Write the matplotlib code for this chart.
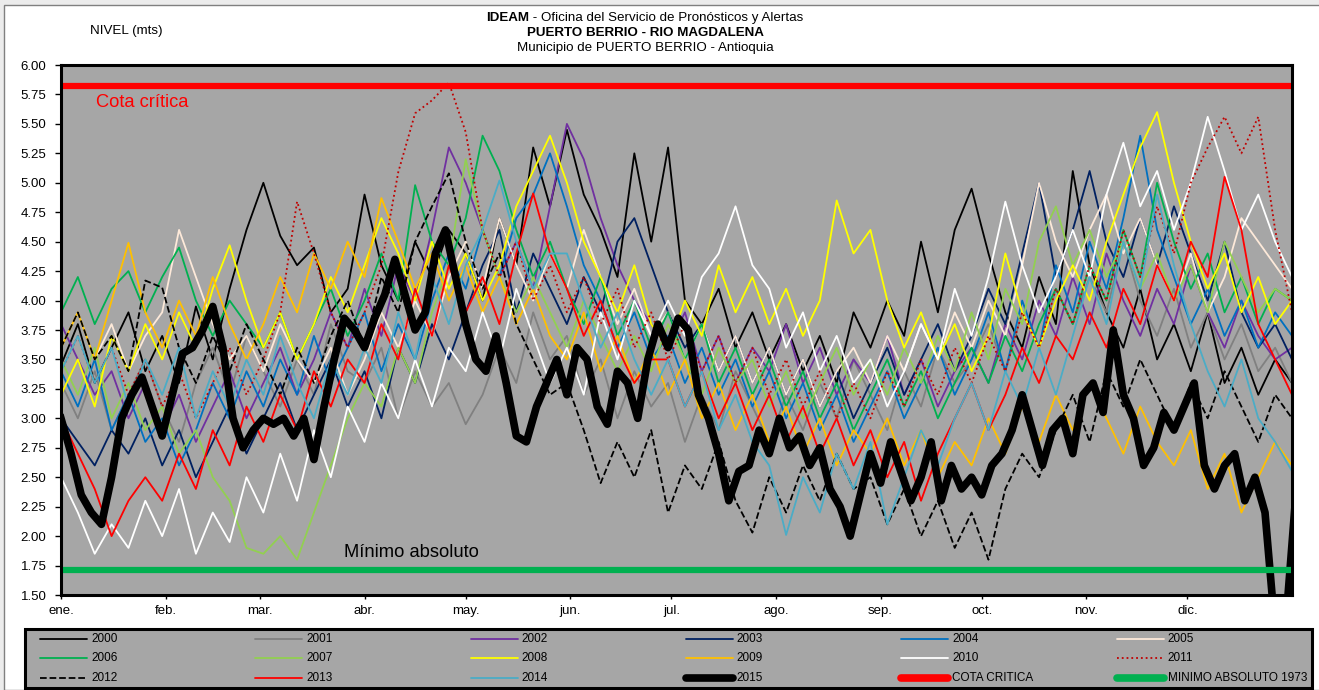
import numpy as np
import matplotlib.pyplot as plt
from matplotlib import font_manager
from matplotlib.lines import Line2D
from matplotlib.patches import Rectangle
from matplotlib.ticker import FormatStrFormatter

plt.rcParams['font.family'] = ['Liberation Sans', 'DejaVu Sans']

W, H = 1319, 690

# dias del año (muestreo cada 5 dias; 2015 cada 3 dias)
dias = np.arange(0, 366, 5)
dias_2015 = np.arange(0, 367, 3)

meses = ['ene.', 'feb.', 'mar.', 'abr.', 'may.', 'jun.', 'jul.', 'ago.',
         'sep.', 'oct.', 'nov.', 'dic.']
inicio_mes = [0, 31, 59, 90, 120, 151, 181, 212, 243, 273, 304, 334]

cota_critica = 5.82
minimo_absoluto = 1.71

# niveles (m)
nivel_2000 = [3.45, 3.8, 3.3, 3.6, 3.9, 3.4, 3.7, 3.3, 3.95, 3.5, 4.1, 4.6,
              5.0, 4.55, 4.3, 4.45, 3.9, 4.1, 4.9, 4.3, 4.0, 4.5, 4.2, 4.6,
              4.4, 4.0, 4.7, 4.3, 5.3, 4.8, 5.45, 4.9, 4.6, 4.2, 5.25, 4.5,
              5.3, 4.0, 3.8, 4.1, 3.6, 3.9, 3.5, 3.8, 3.4, 3.7, 3.3, 3.9,
              3.6, 4.0, 3.7, 4.5, 3.9, 4.6, 4.95, 4.4, 3.9, 3.6, 4.2, 3.8,
              5.1, 4.3, 3.9, 3.6, 4.1, 3.5, 3.8, 3.4, 3.9, 3.3, 3.6, 3.2,
              3.5, 3.3]
nivel_2001 = [3.3, 3.0, 3.4, 2.9, 3.2, 3.5, 3.1, 2.8, 3.3, 3.6, 3.2, 3.7,
              3.4, 3.1, 3.5, 3.2, 3.8, 3.4, 3.3, 3.6, 3.0, 3.4, 3.1, 3.3,
              2.95, 3.2, 3.6, 3.3, 3.9, 3.5, 3.7, 3.2, 3.5, 3.0, 3.4, 3.1,
              3.3, 2.8, 3.2, 2.9, 3.4, 3.1, 2.8, 3.2, 2.9, 3.3, 3.0, 3.5,
              3.2, 2.9, 3.4, 3.1, 3.6, 3.3, 3.5, 3.8, 3.4, 3.9, 3.6, 4.1,
              3.8, 4.2, 3.9, 4.5, 4.0, 3.7, 4.1, 3.6, 3.9, 3.5, 3.8, 3.4,
              3.6, 3.3]
nivel_2002 = [3.8, 3.5, 3.2, 3.4, 3.0, 3.3, 2.9, 3.2, 2.8, 3.1, 3.4, 3.0,
              3.3, 3.6, 3.2, 3.5, 3.9, 3.6, 4.1, 3.7, 4.3, 4.0, 4.6, 5.3,
              5.0, 4.6, 4.2, 4.5, 4.1, 4.8, 5.5, 5.2, 4.7, 4.3, 4.0, 3.8,
              3.6, 3.9, 3.4, 3.7, 3.3, 3.6, 3.4, 3.8, 3.3, 3.6, 3.2, 3.5,
              3.3, 3.7, 3.2, 3.5, 3.1, 3.4, 3.6, 3.3, 3.8, 3.5, 4.0, 3.7,
              4.2, 3.8, 4.4, 4.0, 3.7, 4.1, 3.8, 4.3, 3.9, 3.6, 4.0, 3.7,
              3.5, 3.6]
nivel_2003 = [3.0, 2.8, 2.6, 2.9, 2.7, 3.0, 2.6, 2.9, 2.5, 2.8, 3.1, 2.7,
              3.0, 3.3, 2.9, 3.2, 3.5, 3.1, 3.4, 3.0, 3.6, 3.3, 3.8, 3.5,
              3.9, 4.3, 4.6, 3.9, 4.4, 4.1, 3.8, 4.2, 3.9, 4.5, 4.7, 4.3,
              3.9, 3.6, 3.8, 3.4, 3.7, 3.3, 3.6, 3.2, 3.5, 3.1, 3.4, 3.0,
              3.3, 3.6, 3.2, 3.5, 3.8, 3.4, 3.7, 4.1, 3.8, 4.4, 5.0, 4.2,
              4.6, 5.1, 4.5, 4.2, 4.7, 4.3, 4.8, 4.4, 4.0, 4.5, 3.9, 3.6,
              3.8, 3.5]
nivel_2004 = [3.4, 3.1, 3.5, 2.9, 3.2, 2.8, 3.0, 2.6, 2.9, 3.3, 3.0, 3.4,
              3.1, 3.5, 3.2, 3.7, 3.3, 3.6, 3.9, 3.4, 3.8, 3.5, 4.0, 4.4,
              4.1, 4.6, 4.2, 4.7, 4.9, 5.25, 4.8, 4.3, 4.0, 3.6, 3.9, 3.5,
              3.7, 3.3, 3.6, 3.2, 3.5, 3.1, 3.4, 3.0, 3.3, 2.9, 3.2, 2.8,
              3.1, 3.4, 3.0, 3.3, 3.6, 3.2, 3.5, 3.9, 3.4, 4.0, 3.6, 4.3,
              3.9, 4.5, 4.1, 4.7, 5.4, 4.6, 4.2, 3.8, 4.1, 3.7, 4.0, 3.6,
              3.9, 3.7]
nivel_2005 = [3.6, 3.9, 3.5, 3.8, 3.4, 3.7, 3.9, 4.6, 4.2, 3.8, 3.5, 3.7,
              3.4, 3.8, 3.5, 3.3, 3.6, 3.2, 3.5, 3.9, 3.6, 4.0, 3.7, 4.2,
              4.5, 4.1, 4.7, 4.3, 4.0, 4.4, 4.1, 4.6, 4.2, 3.8, 4.1, 3.7,
              3.9, 3.5, 3.8, 3.4, 3.7, 3.3, 3.6, 3.2, 3.5, 3.1, 3.4, 3.6,
              3.3, 3.7, 3.4, 3.8, 3.5, 3.9, 3.6, 4.0, 3.7, 4.3, 5.0, 4.5,
              4.2, 4.6, 4.9, 4.4, 4.7, 4.3, 4.0, 4.4, 3.9, 4.2, 4.7, 4.5,
              4.3, 4.1]
nivel_2006 = [3.9, 4.2, 3.8, 4.1, 4.25, 3.9, 4.2, 4.45, 4.0, 3.7, 4.0, 3.8,
              3.6, 3.9, 3.5, 3.8, 4.1, 3.7, 4.0, 4.4, 4.0, 4.98, 4.5, 4.3,
              4.7, 5.4, 5.1, 4.6, 4.2, 4.5, 4.1, 3.8, 4.2, 3.7, 4.0, 3.6,
              3.9, 3.5, 3.8, 3.3, 3.6, 3.2, 3.5, 3.1, 3.4, 3.0, 3.3, 2.9,
              3.2, 3.5, 3.1, 3.4, 3.0, 3.3, 3.6, 3.3, 3.7, 3.4, 3.8, 4.1,
              3.8, 4.3, 4.0, 4.6, 4.2, 5.0, 4.5, 4.1, 4.4, 3.9, 4.2, 3.8,
              4.1, 4.0]
nivel_2007 = [3.5, 3.2, 3.6, 3.0, 3.3, 2.9, 3.1, 2.7, 2.9, 2.5, 2.3, 1.9,
              1.85, 2.0, 1.8, 2.2, 2.6, 3.0, 3.3, 3.1, 3.6, 3.3, 3.9, 4.3,
              5.2, 4.6, 4.2, 3.9, 4.2, 3.9, 3.6, 4.0, 3.7, 3.4, 3.7, 3.4,
              3.8, 3.5, 3.2, 3.6, 3.3, 3.5, 3.1, 3.4, 3.0, 3.3, 3.6, 3.2,
              3.5, 3.2, 3.6, 3.3, 3.7, 3.4, 3.9, 3.5, 4.1, 3.8, 4.5, 4.8,
              4.3, 4.6, 4.2, 4.5, 4.1, 4.4, 4.0, 4.3, 3.9, 4.5, 4.2, 3.9,
              4.1, 4.0]
nivel_2008 = [3.2, 3.5, 3.1, 3.7, 3.4, 3.8, 3.5, 3.9, 3.6, 4.1, 4.47, 4.0,
              3.6, 3.9, 3.5, 3.8, 4.2, 3.9, 4.3, 4.7, 4.4, 4.0, 4.5, 4.1,
              4.4, 4.0, 4.3, 4.8, 5.1, 5.4, 5.0, 4.5, 4.2, 3.9, 4.3, 3.8,
              3.6, 4.0, 3.7, 4.3, 3.9, 4.2, 3.8, 4.1, 3.7, 4.0, 4.85, 4.4,
              4.6, 4.0, 3.6, 3.9, 3.5, 3.8, 3.4, 3.7, 4.4, 3.9, 3.6, 4.0,
              4.3, 4.0, 4.5, 4.9, 5.3, 5.6, 5.0, 4.5, 4.1, 4.4, 3.9, 4.2,
              3.8, 4.0]
nivel_2009 = [3.6, 3.9, 3.5, 4.0, 4.49, 3.9, 3.6, 4.0, 3.7, 4.2, 3.8, 3.5,
              3.8, 4.2, 3.9, 4.4, 4.1, 4.5, 4.2, 4.87, 4.5, 4.1, 4.4, 4.0,
              4.3, 3.9, 4.2, 3.8, 4.1, 3.7, 3.5, 3.9, 3.4, 3.7, 3.3, 3.6,
              3.2, 3.5, 3.0, 3.3, 2.9, 3.2, 2.8, 3.1, 2.7, 3.0, 2.6, 2.9,
              2.7, 3.0, 2.6, 2.9, 2.5, 2.8, 2.6, 3.0, 2.7, 3.1, 2.8, 3.2,
              2.9, 3.3, 3.0, 2.7, 3.1, 2.8, 2.6, 2.9, 2.4, 2.7, 2.2, 2.5,
              2.8, 2.6]
nivel_2010 = [2.5, 2.2, 1.85, 2.1, 1.9, 2.3, 2.0, 2.4, 1.85, 2.2, 1.95, 2.5,
              2.2, 2.7, 2.3, 2.9, 2.5, 3.1, 2.8, 3.3, 3.0, 3.5, 3.1, 3.6,
              3.4, 3.9, 3.5, 4.1, 3.7, 3.3, 3.6, 3.2, 3.9, 3.5, 4.0, 3.7,
              4.0, 3.7, 4.2, 4.4, 4.8, 4.3, 4.1, 3.6, 3.9, 3.4, 3.7, 3.3,
              3.5, 3.1, 3.4, 3.8, 3.5, 4.1, 3.7, 4.2, 4.84, 4.3, 3.9, 4.2,
              4.6, 4.2, 4.9, 5.34, 4.8, 5.1, 4.6, 5.0, 5.56, 5.1, 4.6, 4.9,
              4.5, 4.2]
nivel_2011 = [3.4, 3.7, 3.3, 3.6, 3.2, 3.5, 3.1, 3.4, 3.0, 3.3, 3.6, 3.2,
              3.5, 3.9, 4.84, 4.4, 3.9, 3.6, 3.9, 4.3, 5.09, 5.59, 5.7, 5.85,
              5.43, 4.6, 4.2, 4.5, 4.0, 4.3, 3.9, 4.2, 3.8, 4.1, 3.6, 3.9,
              3.5, 3.8, 3.4, 3.7, 3.3, 3.6, 3.2, 3.5, 3.1, 3.4, 3.0, 3.3,
              3.0, 3.4, 3.1, 3.5, 3.2, 3.6, 3.3, 3.7, 3.4, 3.9, 3.6, 4.1,
              3.8, 4.3, 4.0, 4.6, 4.2, 4.8, 4.4, 5.0, 5.3, 5.56, 5.25, 5.56,
              4.6, 3.9]
nivel_2012 = [3.6, 3.9, 3.5, 3.7, 3.4, 4.17, 4.11, 3.6, 3.3, 3.7, 3.4, 3.8,
              3.5, 3.2, 3.6, 3.3, 3.7, 4.0, 3.6, 4.2, 3.9, 4.5, 4.8, 5.08,
              4.5, 4.1, 4.4, 3.8, 3.5, 3.2, 3.3, 2.9, 2.45, 2.8, 2.5, 2.9,
              2.2, 2.6, 2.4, 2.8, 2.3, 2.03, 2.5, 2.2, 2.6, 2.3, 2.7, 2.4,
              2.5, 2.1, 2.4, 2.0, 2.3, 1.9, 2.2, 1.8, 2.4, 2.7, 2.5, 2.9,
              3.2, 2.8, 3.4, 3.1, 3.5, 3.2, 2.9, 3.3, 3.0, 3.4, 3.1, 2.8,
              3.2, 3.0]
nivel_2013 = [3.0, 2.7, 2.4, 2.0, 2.3, 2.5, 2.3, 2.7, 2.4, 2.9, 2.6, 3.1,
              2.8, 3.2, 2.9, 3.4, 3.1, 3.5, 3.3, 3.8, 3.5, 4.1, 3.7, 4.3,
              3.9, 4.2, 3.8, 4.4, 4.91, 4.4, 4.1, 3.7, 4.0, 3.6, 3.3, 3.5,
              3.5, 3.1, 3.4, 3.0, 3.3, 2.9, 3.2, 2.8, 3.1, 2.7, 3.0, 2.6,
              2.9, 2.5, 2.8, 2.3, 2.7, 3.0, 3.3, 2.9, 3.2, 3.6, 3.3, 3.7,
              3.5, 3.9, 3.6, 4.1, 3.8, 4.3, 4.0, 4.5, 4.2, 5.05, 4.6, 3.8,
              3.5, 3.2]
nivel_2014 = [3.4, 3.7, 3.3, 3.6, 3.1, 3.5, 3.2, 3.6, 3.0, 3.4, 3.1, 3.5,
              3.2, 3.7, 3.3, 3.0, 3.5, 3.2, 3.6, 3.3, 3.9, 3.5, 4.2, 3.8,
              4.3, 4.6, 5.02, 4.5, 4.1, 4.4, 4.4, 4.0, 3.6, 3.9, 3.5, 3.2,
              3.5, 3.1, 3.4, 2.9, 3.2, 2.8, 2.6, 2.01, 2.5, 2.2, 2.7, 2.4,
              2.8, 2.1, 2.5, 2.9, 2.6, 3.0, 3.3, 2.9, 3.4, 3.1, 3.6, 3.2,
              3.7, 4.2, 3.8, 4.5, 4.1, 4.9, 4.3, 3.8, 3.4, 3.1, 3.5, 3.0,
              2.8, 2.55]
nivel_2015 = [3.0, 2.7, 2.35, 2.2, 2.1, 2.5, 3.0, 3.2, 3.35, 3.1,
              2.85, 3.2, 3.55, 3.6, 3.75, 3.95, 3.6, 3.0, 2.75, 2.9,
              3.0, 2.95, 3.0, 2.85, 3.0, 2.65, 3.1, 3.5, 3.85, 3.75,
              3.6, 3.85, 4.05, 4.35, 4.05, 3.75, 3.9, 4.4, 4.6, 4.2,
              3.8, 3.5, 3.4, 3.7, 3.3, 2.85, 2.8, 3.1, 3.3, 3.5,
              3.2, 3.6, 3.5, 3.1, 2.95, 3.4, 3.3, 3.0, 3.5, 3.8,
              3.6, 3.85, 3.75, 3.2, 3.0, 2.7, 2.3, 2.55, 2.6, 2.9,
              2.7, 3.0, 2.75, 2.85, 2.6, 2.75, 2.4, 2.25, 2.0, 2.35,
              2.7, 2.45, 2.8, 2.55, 2.3, 2.5, 2.8, 2.3, 2.6, 2.4,
              2.5, 2.35, 2.6, 2.7, 2.9, 3.2, 2.9, 2.6, 2.9,
              3.0, 2.7, 3.2, 3.3, 3.05, 3.75, 3.2, 3.0, 2.6,
              2.75, 3.05, 2.9, 3.1, 3.3, 2.6, 2.4, 2.6, 2.7, 2.3, 2.5, 2.2,
              1.2, 1.2, 2.3]

anios = ['2000', '2001', '2002', '2003', '2004', '2005', '2006', '2007',
         '2008', '2009', '2010', '2011', '2012', '2013', '2014', '2015']
niveles = [nivel_2000, nivel_2001, nivel_2002, nivel_2003, nivel_2004,
           nivel_2005, nivel_2006, nivel_2007, nivel_2008, nivel_2009,
           nivel_2010, nivel_2011, nivel_2012, nivel_2013, nivel_2014,
           nivel_2015]

# estilos
colores = ['#000000', '#808080', '#7030A0', '#002060', '#0070C0', '#FDE9D9',
           '#00B050', '#92D050', '#FFFF00', '#FFC000', '#FFFFFF', '#C00000',
           '#000000', '#FF0000', '#4BACC6', '#000000']
estilos = ['-'] * 11 + [':', '--', '-', '-', '-']
grosores = [1.3] * 15 + [5.5]
gris = '#A6A6A6'

# fuente estrecha para los rotulos grandes, si existe
nombres = {f.name for f in font_manager.fontManager.ttflist}
if 'Liberation Sans Narrow' in nombres:
    fuente_rotulo, tam_rotulo = 'Liberation Sans Narrow', 15
else:
    fuente_rotulo, tam_rotulo = 'Liberation Sans', 13.2

fig = plt.figure(figsize=(W / 100, H / 100), dpi=100)
fig.patch.set_facecolor('#ECECEC')
fig.patches.append(Rectangle((4 / W, 0), 1, 1 - 5 / H, transform=fig.transFigure,
                             facecolor='white', edgecolor='#808080', lw=1, zorder=-5))

ax = fig.add_axes([61 / W, 1 - 595 / H, (1292 - 61) / W, (595 - 65) / H])
ax.set_facecolor(gris)

for anio, y, c, ls, lw in zip(anios, niveles, colores, estilos, grosores):
    x = dias_2015 if anio == '2015' else dias
    ax.plot(x, y, color=c, ls=ls, lw=lw)

ax.axhline(cota_critica, color='#FF0000', lw=4.5)
ax.axhline(minimo_absoluto, color='#00B050', lw=4.5)

ax.text(10.5, 5.68, 'Cota crítica', color='#FF0000', fontsize=tam_rotulo,
        family=fuente_rotulo, va='center')
ax.text(84, 1.86, 'Mínimo absoluto', color='black', fontsize=tam_rotulo,
        family=fuente_rotulo, va='center')

ax.set_xlim(0, 365)
ax.set_ylim(1.5, 6.0)
ax.set_yticks(np.arange(1.5, 6.01, 0.25))
ax.yaxis.set_major_formatter(FormatStrFormatter('%.2f'))
ax.set_xticks(inicio_mes)
ax.set_xticklabels(meses)
ax.tick_params(axis='y', direction='out', length=4.5, width=1, pad=6, labelsize=9.5)
ax.tick_params(axis='x', direction='out', length=3, width=1, pad=4, labelsize=9.5)
for s in ax.spines.values():
    s.set_linewidth(2.2)

# titulos
fig.text(90 / W, 1 - 31 / H, 'NIVEL (mts)', fontsize=9.6, va='center')
fig.text(645 / W, 1 - 33 / H, 'PUERTO BERRIO - RIO MAGDALENA', fontsize=9.6,
         weight='bold', ha='center', va='center')
fig.text(645 / W, 1 - 48 / H, 'Municipio de PUERTO BERRIO - Antioquia', fontsize=9.6,
         ha='center', va='center')
r = fig.canvas.get_renderer()
t1 = fig.text(0, 1 - 18 / H, 'IDEAM', fontsize=9.6, weight='bold', va='center')
t2 = fig.text(0, 1 - 18 / H, ' - Oficina del Servicio de Pronósticos y Alertas',
              fontsize=9.6, va='center')
w1 = t1.get_window_extent(r).width
w2 = t2.get_window_extent(r).width
x0 = 645 - (w1 + w2) / 2
t1.set_x(x0 / W)
t2.set_x((x0 + w1) / W)

# leyenda
fig.patches.append(Rectangle((25 / W, 1 - 688 / H), (1312 - 25) / W, (688 - 629) / H,
                             transform=fig.transFigure, facecolor=gris,
                             edgecolor='black', lw=2.2, zorder=1))
entradas = [(a, c, ls, lw) for a, c, ls, lw in zip(anios, colores, estilos, grosores)]
entradas += [('COTA CRITICA', '#FF0000', '-', 5.5),
             ('MINIMO ABSOLUTO 1973', '#00B050', '-', 5.5)]
for i, (lab, c, ls, lw) in enumerate(entradas):
    fila, col = divmod(i, 6)
    xl = 40 + 215.3 * col
    yl = 638.5 + 19.7 * fila
    fig.lines.append(Line2D([xl / W, (xl + 47) / W], [1 - yl / H, 1 - yl / H],
                            transform=fig.transFigure, color=c, ls=ls, lw=lw,
                            solid_capstyle='round', zorder=2))
    fig.text((xl + 51) / W, 1 - yl / H, lab, fontsize=8.5, va='center', zorder=3)

fig.savefig('out.png', dpi=100, facecolor=fig.get_facecolor())
